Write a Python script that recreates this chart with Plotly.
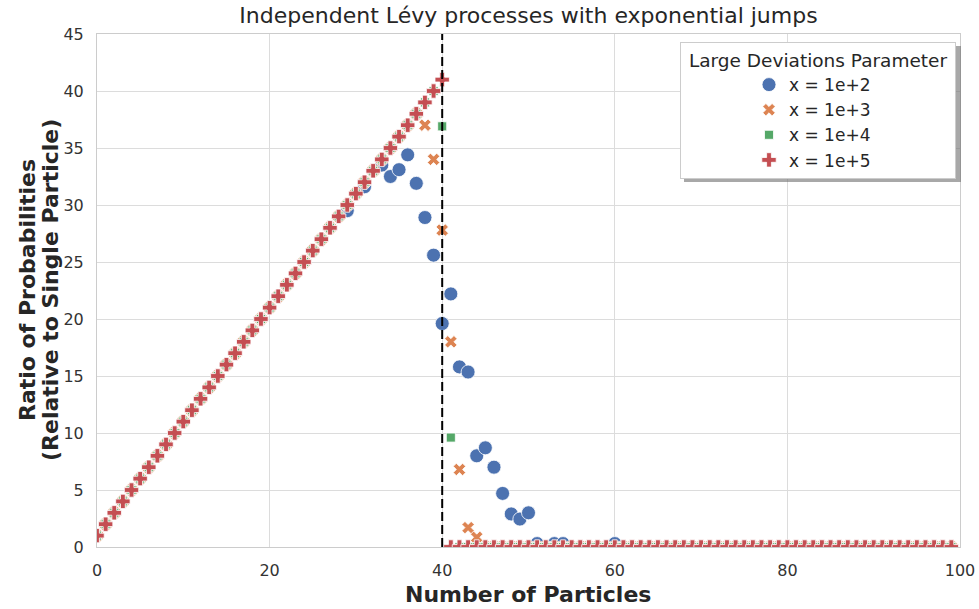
import plotly.graph_objects as go

# ---------------- data ----------------
particles = list(range(100))

# x = 1e+5 (red, plus)
ratio_1e5 = [1, 2, 3, 4, 5, 6, 7, 8, 9, 10, 11, 12, 13, 14, 15, 16, 17, 18, 19, 20,
             21, 22, 23, 24, 25, 26, 27, 28, 29, 30, 31, 32, 33, 34, 35, 36, 37, 38, 39, 40,
             41,
             0, 0, 0, 0, 0, 0, 0, 0, 0, 0, 0, 0, 0, 0, 0, 0, 0, 0, 0, 0,
             0, 0, 0, 0, 0, 0, 0, 0, 0, 0, 0, 0, 0, 0, 0, 0, 0, 0, 0, 0,
             0, 0, 0, 0, 0, 0, 0, 0, 0, 0, 0, 0, 0, 0, 0, 0, 0, 0, 0]

# x = 1e+4 (green, square)
ratio_1e4 = [1, 2, 3, 4, 5, 6, 7, 8, 9, 10, 11, 12, 13, 14, 15, 16, 17, 18, 19, 20,
             21, 22, 23, 24, 25, 26, 27, 28, 29, 30, 31, 32, 33, 34, 35, 36, 37, 38, 39, 40,
             36.9, 9.6,
             0, 0, 0, 0, 0, 0, 0, 0, 0, 0, 0, 0, 0, 0, 0, 0, 0, 0, 0, 0,
             0, 0, 0, 0, 0, 0, 0, 0, 0, 0, 0, 0, 0, 0, 0, 0, 0, 0, 0, 0,
             0, 0, 0, 0, 0, 0, 0, 0, 0, 0, 0, 0, 0, 0, 0, 0, 0, 0]

# x = 1e+3 (orange, x)
ratio_1e3 = [1, 2, 3, 4, 5, 6, 7, 8, 9, 10, 11, 12, 13, 14, 15, 16, 17, 18, 19, 20,
             21, 22, 23, 24, 25, 26, 27, 28, 29, 30, 31, 32, 33, 34, 35, 36, 37, 38,
             37.0, 34.0, 27.8, 18.0, 6.8, 1.7, 0.85,
             0, 0, 0, 0, 0, 0, 0, 0, 0, 0, 0, 0, 0, 0, 0, 0, 0, 0, 0, 0,
             0, 0, 0, 0, 0, 0, 0, 0, 0, 0, 0, 0, 0, 0, 0, 0, 0, 0, 0, 0,
             0, 0, 0, 0, 0, 0, 0, 0, 0, 0, 0, 0, 0, 0, 0]

# x = 1e+2 (blue, circle)
N = None
ratio_1e2 = [N, N, N, N, N, N, N, N, N, N, N, N, N, N, N, N, N, N, N, N,
             N, N, N, N, N, N, N, N, N, 29.5, N, 31.6, N, 33.5, 32.5, 33.1, 34.4, 31.9, 28.9, 25.6,
             19.6, 22.2, 15.8, 15.35, 8.0, 8.7, 7.0, 4.7, 2.9, 2.45,
             3.0, 0.3, N, 0.3, 0.3, N, N, N, N, N, 0.3, N, N, N, N, N, N, N, N, N,
             N, N, N, N, N, N, N, N, N, N, N, N, N, N, N, N, N, N, N, N,
             N, N, N, N, N, N, N, N, N, N]

series_names = ["x = 1e+2", "x = 1e+3", "x = 1e+4", "x = 1e+5"]
series_vals = [ratio_1e2, ratio_1e3, ratio_1e4, ratio_1e5]
series_colors = ["#4c72b0", "#dd8452", "#55a868", "#c44e52"]
series_symbols = ["circle", "x", "square", "cross"]
series_sizes = [14, 11, 9, 12]

threshold = 40
x_ticks = [0, 20, 40, 60, 80, 100]
y_ticks = [0, 5, 10, 15, 20, 25, 30, 35, 40, 45]

title_text = "Independent Lévy processes with exponential jumps"
xlabel_text = "Number of Particles"
ylabel_lines = ["Ratio of Probabilities", "(Relative to Single Particle)"]
legend_title = "Large Deviations Parameter"

# ---------------- layout geometry (pixels) ----------------
W, H = 979, 609
L, R, T, B = 97, 19, 34, 62
pw, ph = W - L - R, H - T - B


def px_x(p):
    return (p - L) / pw


def px_y(p):
    return (H - B - p) / ph


# ---------------- figure ----------------
fig = go.Figure()
for name, vals, col, sym, sz in zip(series_names, series_vals, series_colors,
                                    series_symbols, series_sizes):
    fig.add_trace(go.Scatter(
        x=particles, y=vals, mode="markers", name=name,
        marker=dict(color=col, symbol=sym, size=sz,
                    line=dict(color="white", width=0.8)),
        cliponaxis=True,
    ))

fig.add_vline(x=threshold, line=dict(color="black", width=2, dash="9px,4px"))

# legend shadow
fig.add_shape(type="rect", xref="paper", yref="paper",
              x0=px_x(684), x1=px_x(961), y0=px_y(182), y1=px_y(46),
              fillcolor="rgba(110,110,110,0.6)", line=dict(width=0), layer="above")

font_family = "DejaVu Sans"
dark = "#262626"

# axis titles as annotations for precise placement
fig.add_annotation(text="<b>%s</b>" % xlabel_text, xref="paper", yref="paper",
                   x=px_x(528), y=px_y(594), xanchor="center", yanchor="middle",
                   showarrow=False, font=dict(size=22, color=dark))
for txt, cx in zip(ylabel_lines, [27, 50]):
    fig.add_annotation(text="<b>%s</b>" % txt, xref="paper", yref="paper",
                       x=px_x(cx), y=px_y(290), xanchor="center", yanchor="middle",
                       textangle=-90, showarrow=False, font=dict(size=22, color=dark))

NB = "\u00a0"
fig.update_layout(
    width=W, height=H,
    margin=dict(l=L, r=R, t=T, b=B, autoexpand=False),
    paper_bgcolor="white", plot_bgcolor="white",
    font=dict(family=font_family, color=dark),
    title=dict(text=title_text, xref="paper",
               x=0.5, xanchor="center", y=1 - 15 / H, yanchor="middle",
               font=dict(size=22, color=dark)),
    legend=dict(
        x=px_x(680), y=px_y(42), xanchor="left", yanchor="top",
        bgcolor="white", bordercolor="#cccccc", borderwidth=1,
        font=dict(size=17, color=dark),
        title=dict(text=NB + legend_title + NB, side="top center",
                   font=dict(size=18.5, color=dark)),
        indentation=68,
        tracegroupgap=0,
    ),
    xaxis=dict(range=[0, 100], tickvals=x_ticks, showgrid=True, gridcolor="#dcdcdc",
               gridwidth=1, zeroline=False, showline=True, linecolor="#cccccc",
               linewidth=1, mirror=True, ticks="", automargin=False,
               ticklabelstandoff=9,
               tickfont=dict(size=16, color="#333333")),
    yaxis=dict(range=[0, 45], tickvals=y_ticks, showgrid=True, gridcolor="#dcdcdc",
               gridwidth=1, zeroline=False, showline=True, linecolor="#cccccc",
               linewidth=1, mirror=True, ticks="", automargin=False,
               ticklabelstandoff=9,
               tickfont=dict(size=16, color="#333333")),
)

fig.write_html("out.html", config={"displayModeBar": False},
               post_script="document.body.style.margin='0px';")
